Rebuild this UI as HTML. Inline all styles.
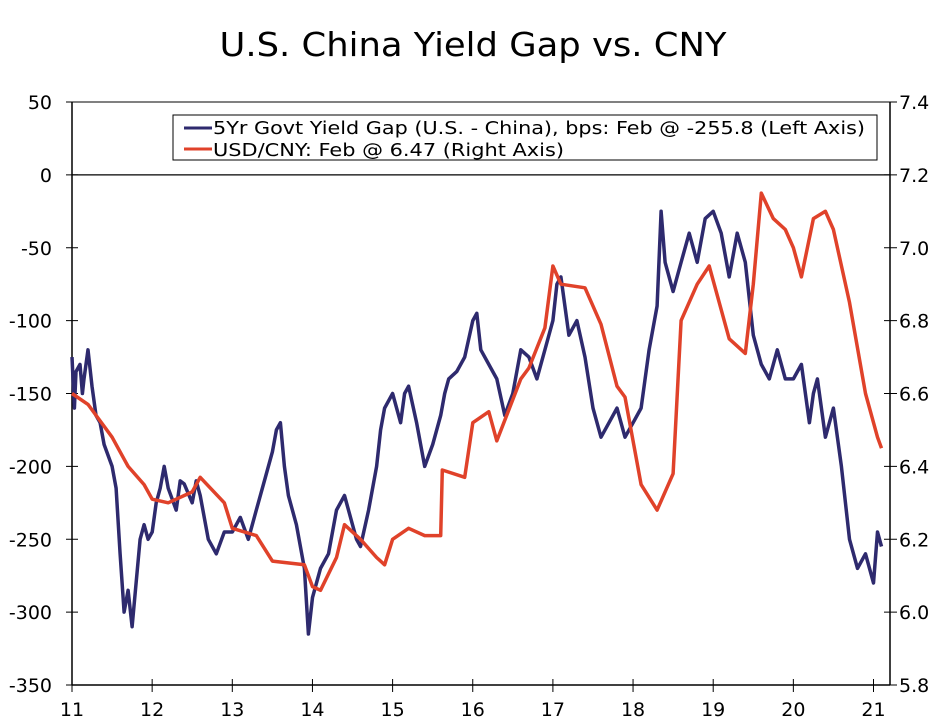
<!DOCTYPE html>
<html><head><meta charset="utf-8"><style>
body{margin:0;background:#fff;}
svg{display:block;font-family:"DejaVu Sans","Liberation Sans",sans-serif;}
</style></head><body>
<svg id="chart" width="947" height="727" viewBox="0 0 947 727">
<text x="473" y="56" text-anchor="middle" font-size="33" textLength="507" lengthAdjust="spacingAndGlyphs" fill="#000">U.S. China Yield Gap vs. CNY</text>
<g id="axes"></g>
<g id="series"></g>
<g>
<rect x="173" y="115" width="704" height="45" fill="#fff" stroke="#000" stroke-width="1"/>
<line x1="184" y1="128" x2="212" y2="128" stroke="#2e2a6e" stroke-width="3"/>
<text x="213" y="134" font-size="18" textLength="652" lengthAdjust="spacingAndGlyphs">5Yr Govt Yield Gap (U.S. - China), bps: Feb @ -255.8 (Left Axis)</text>
<line x1="184" y1="149" x2="212" y2="149" stroke="#e0422a" stroke-width="3"/>
<text x="213" y="156" font-size="18" textLength="351" lengthAdjust="spacingAndGlyphs">USD/CNY: Feb @ 6.47 (Right Axis)</text>
</g>
</svg>
<script>
const gapT=[2011.0,2011.03,2011.05,2011.1,2011.13,2011.15,2011.2,2011.25,2011.3,2011.35,2011.4,2011.5,2011.55,2011.6,2011.65,2011.7,2011.75,2011.8,2011.85,2011.9,2011.95,2012.0,2012.05,2012.1,2012.15,2012.2,2012.3,2012.35,2012.4,2012.5,2012.55,2012.6,2012.7,2012.8,2012.9,2013.0,2013.1,2013.2,2013.3,2013.4,2013.5,2013.55,2013.6,2013.65,2013.7,2013.8,2013.9,2013.95,2014.0,2014.1,2014.2,2014.3,2014.4,2014.5,2014.55,2014.6,2014.7,2014.8,2014.85,2014.9,2015.0,2015.1,2015.15,2015.2,2015.3,2015.4,2015.5,2015.6,2015.65,2015.7,2015.8,2015.9,2016.0,2016.05,2016.1,2016.2,2016.3,2016.4,2016.5,2016.6,2016.7,2016.8,2016.9,2017.0,2017.05,2017.1,2017.2,2017.3,2017.4,2017.5,2017.6,2017.7,2017.8,2017.9,2018.0,2018.1,2018.2,2018.3,2018.35,2018.4,2018.5,2018.6,2018.7,2018.8,2018.9,2019.0,2019.1,2019.2,2019.3,2019.4,2019.5,2019.6,2019.7,2019.8,2019.9,2020.0,2020.1,2020.2,2020.25,2020.3,2020.4,2020.5,2020.6,2020.7,2020.8,2020.9,2021.0,2021.05,2021.1];
const gapV=[-125,-160,-135,-130,-150,-140,-120,-145,-165,-170,-185,-200,-215,-260,-300,-285,-310,-280,-250,-240,-250,-245,-225,-215,-200,-215,-230,-210,-212,-225,-210,-220,-250,-260,-245,-245,-235,-250,-230,-210,-190,-175,-170,-200,-220,-240,-270,-315,-290,-270,-260,-230,-220,-240,-250,-255,-230,-200,-175,-160,-150,-170,-150,-145,-170,-200,-185,-165,-150,-140,-135,-125,-100,-95,-120,-130,-140,-165,-150,-120,-125,-140,-120,-100,-75,-70,-110,-100,-125,-160,-180,-170,-160,-180,-170,-160,-120,-90,-25,-60,-80,-60,-40,-60,-30,-25,-40,-70,-40,-60,-110,-130,-140,-120,-140,-140,-130,-170,-150,-140,-180,-160,-200,-250,-270,-260,-280,-245,-255];
const cnyT=[2011.0,2011.2,2011.5,2011.7,2011.9,2012.0,2012.2,2012.5,2012.6,2012.9,2013.0,2013.3,2013.5,2013.9,2014.0,2014.1,2014.3,2014.4,2014.6,2014.8,2014.9,2015.0,2015.2,2015.4,2015.6,2015.62,2015.9,2016.0,2016.2,2016.3,2016.6,2016.7,2016.9,2017.0,2017.1,2017.4,2017.6,2017.8,2017.9,2018.1,2018.3,2018.5,2018.6,2018.8,2018.95,2019.2,2019.4,2019.5,2019.6,2019.75,2019.9,2020.0,2020.1,2020.25,2020.4,2020.5,2020.7,2020.9,2021.05,2021.1];
const cnyV=[6.6,6.57,6.48,6.40,6.35,6.31,6.30,6.33,6.37,6.30,6.23,6.21,6.14,6.13,6.07,6.06,6.15,6.24,6.20,6.15,6.13,6.20,6.23,6.21,6.21,6.39,6.37,6.52,6.55,6.47,6.64,6.67,6.78,6.95,6.90,6.89,6.79,6.62,6.59,6.35,6.28,6.38,6.80,6.90,6.95,6.75,6.71,6.90,7.15,7.08,7.05,7.00,6.92,7.08,7.10,7.05,6.85,6.60,6.48,6.45];
const leftTicks=[50,0,-50,-100,-150,-200,-250,-300,-350];
const rightTicks=["7.4","7.2","7.0","6.8","6.6","6.4","6.2","6.0","5.8"];
const xTicks=[11,12,13,14,15,16,17,18,19,20,21];
const X0=72,X1=890,Y0=102,Y1=685;
const xs=t=>X0+(t-2011)*80.15;
const yL=v=>Y0+(50-v)/400*(Y1-Y0);
const yR=v=>Y0+(7.4-v)/1.6*(Y1-Y0);
const NS="http://www.w3.org/2000/svg";
function mk(tag,attrs,parent,txt){const e=document.createElementNS(NS,tag);for(const k in attrs)e.setAttribute(k,attrs[k]);if(txt!==undefined)e.textContent=txt;parent.appendChild(e);return e;}
const ax=document.getElementById('axes');
let e;
e=mk('line',{x1:X0,y1:Y0,x2:X0,y2:Y1,stroke:'#000','stroke-width':1.5},ax);


e=mk('line',{x1:X1,y1:Y0,x2:X1,y2:Y1,stroke:'#000','stroke-width':1.5},ax);


e=mk('line',{x1:X0,y1:Y1,x2:X1,y2:Y1,stroke:'#000','stroke-width':1.5},ax);


e=mk('line',{x1:X0,y1:Y0,x2:X1,y2:Y0,stroke:'#000','stroke-width':1},ax);


e=mk('line',{x1:X0,y1:yL(0),x2:X1,y2:yL(0),stroke:'#000','stroke-width':1.2},ax);


leftTicks.forEach(v=>{const y=yL(v);
 e=mk('line',{x1:X0-6,y1:y,x2:X0+6,y2:y,stroke:'#000','stroke-width':1},ax);
 
 
 e=mk('text',{x:X0-20,y:y+7,'text-anchor':'end','font-size':19},ax,String(v));
 
 });
rightTicks.forEach(s=>{const y=yR(parseFloat(s));
 e=mk('line',{x1:X1-6,y1:y,x2:X1+7,y2:y,stroke:'#000','stroke-width':1},ax);
 
 
 e=mk('text',{x:X1+9,y:y+7,'font-size':19},ax,s);
 
 });
xTicks.forEach(v=>{const x=xs(2000+v);
 e=mk('line',{x1:x,y1:Y1-6,x2:x,y2:Y1+7,stroke:'#000','stroke-width':1},ax);
 
 
 e=mk('text',{x:x,y:Y1+31,'text-anchor':'middle','font-size':19},ax,String(v));
 
 });
const sg=document.getElementById('series');
const dG=gapT.map((t,i)=>(i?'L':'M')+xs(t).toFixed(1)+','+yL(gapV[i]).toFixed(1)).join('');
e=mk('path',{d:dG,fill:'none',stroke:'#2e2a6e','stroke-width':3.5,'stroke-linejoin':'round'},sg);


const dC=cnyT.map((t,i)=>(i?'L':'M')+xs(t).toFixed(1)+','+yR(cnyV[i]).toFixed(1)).join('');
e=mk('path',{d:dC,fill:'none',stroke:'#e0422a','stroke-width':3.5,'stroke-linejoin':'round'},sg);


</script>
</body></html>
